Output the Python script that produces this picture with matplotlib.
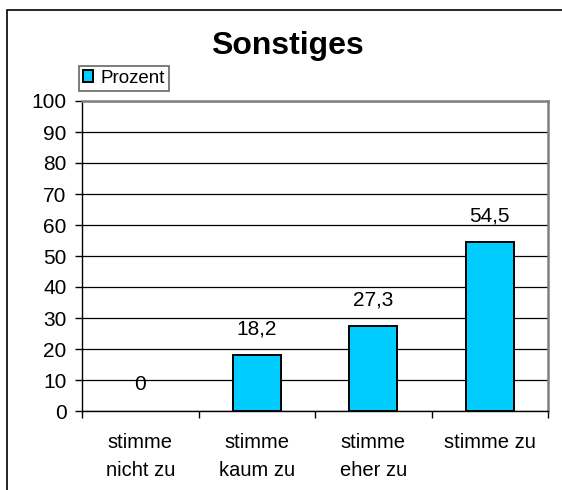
import matplotlib
matplotlib.use("Agg")
import matplotlib.pyplot as plt
from matplotlib.patches import Rectangle, Patch
import numpy as np

plt.rcParams['font.family'] = ['Liberation Sans', 'DejaVu Sans']

categories = ["stimme\nnicht zu", "stimme\nkaum zu", "stimme\neher zu", "stimme zu"]
values = [0, 18.2, 27.3, 54.5]
value_labels = ["0", "18,2", "27,3", "54,5"]
series_name = "Prozent"
title = "Sonstiges"
bar_color = '#00ccff'

W, H = 562, 490
fig = plt.figure(figsize=(W / 100, H / 100), dpi=100)
# outer chart border (clipped on right/bottom)
fig.add_artist(Rectangle((7 / W, -0.1), 1.2, (H - 10) / H + 0.1, transform=fig.transFigure,
                         fill=False, edgecolor='black', linewidth=1.2))

ax = fig.add_axes([82 / W, (H - 411) / H, (548 - 82) / W, (411 - 101) / H])
x = np.arange(len(categories))
bars = ax.bar(x, values, width=0.41, color=bar_color, edgecolor='black', linewidth=1.4,
              label=series_name, zorder=3)
for b, v in zip(bars, values):
    if v == 0:
        b.set_linewidth(0)
ax.set_xlim(-0.5, len(categories) - 0.5)
ax.set_ylim(0, 100)
ax.set_yticks(np.arange(0, 101, 10))
ax.yaxis.grid(True, color='black', linewidth=0.9, zorder=0)
ax.set_axisbelow(True)
ax.set_xticks(np.arange(-0.5, len(categories), 1.0))
ax.set_xticklabels([])
ax.set_xticks(x, minor=True)
ax.set_xticklabels(categories, minor=True, fontsize=14.5, linespacing=1.6)
ax.tick_params(axis='x', which='minor', length=0, pad=16)
ax.tick_params(axis='x', which='major', length=5, direction='out', color='black', width=1.0)
ax.tick_params(axis='y', length=5, direction='out', labelsize=15, pad=6, width=1.0)
for side in ['top', 'right']:
    ax.spines[side].set_color('#808080')
    ax.spines[side].set_linewidth(1.8)
ax.spines['left'].set_color('black')
ax.spines['bottom'].set_color('black')
ax.spines['left'].set_linewidth(1.0)
ax.spines['bottom'].set_linewidth(1.0)

for xi, v, lab in zip(x, values, value_labels):
    ax.text(xi, v + 8.4, lab, ha='center', va='center', fontsize=15)

fig.text(287 / W, 1 - 46 / H, title, ha='center', va='center', fontsize=23, fontweight='bold')

handle = Patch(facecolor=bar_color, edgecolor='black', linewidth=1.4)
leg = fig.legend(handles=[handle], labels=[series_name], loc='upper left',
                 bbox_to_anchor=(79 / W, 1 - 66 / H), fontsize=13.5, frameon=True,
                 fancybox=False, edgecolor='#404040', handlelength=0.55, handleheight=0.55,
                 handletextpad=0.4, borderpad=0.2, borderaxespad=0)
leg.get_frame().set_linewidth(1.2)

fig.savefig("out.png", dpi=100)
